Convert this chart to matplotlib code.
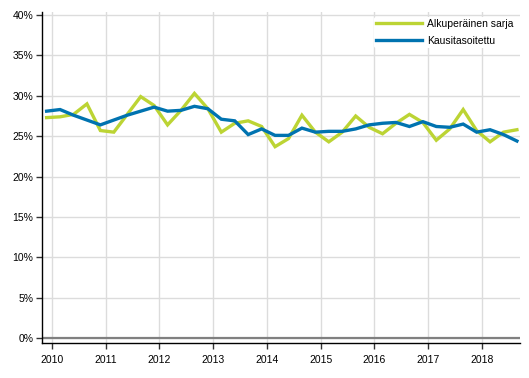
import matplotlib
matplotlib.use('Agg')
import matplotlib.pyplot as plt
import numpy as np

plt.rcParams['font.family'] = ['Liberation Sans', 'DejaVu Sans']

# quarterly values 2010Q1 - 2018Q4, percent
years = ['2010', '2011', '2012', '2013', '2014', '2015', '2016', '2017', '2018']
original = [27.3, 27.4, 27.7, 29.0, 25.7, 25.5, 27.7, 29.9,
            28.8, 26.4, 28.2, 30.3, 28.4, 25.5, 26.6, 26.9,
            26.2, 23.7, 24.7, 27.6, 25.5, 24.3, 25.5, 27.5,
            26.1, 25.3, 26.6, 27.7, 26.7, 24.5, 25.9, 28.3,
            25.7, 24.3, 25.5, 25.8]
seasonal = [28.1, 28.3, 27.6, 27.0, 26.4, 27.0, 27.6, 28.1,
            28.6, 28.1, 28.2, 28.7, 28.4, 27.1, 26.9, 25.2,
            25.9, 25.1, 25.1, 26.0, 25.5, 25.6, 25.6, 25.9,
            26.4, 26.6, 26.7, 26.2, 26.8, 26.2, 26.1, 26.5,
            25.5, 25.8, 25.2, 24.4]
labels = ['Alkuperäinen sarja', 'Kausitasoitettu']

green = '#bcd434'
blue = '#0073b0'

x = np.arange(len(original))

fig = plt.figure(figsize=(5.29, 3.78), dpi=100)
ax = fig.add_axes([0.079, 0.0926, 0.904, 0.876])

ax.plot(x, original, color=green, lw=2.4, label=labels[0], solid_joinstyle='miter')
ax.plot(x, seasonal, color=blue, lw=2.4, label=labels[1], solid_joinstyle='miter')
ax.axhline(0, color='#808080', lw=1.6, zorder=1)

ax.set_xlim(-0.36, 35.23)
ax.set_ylim(-0.62, 40.4)

yt = np.arange(0, 41, 5)
ax.set_yticks(yt)
ax.set_yticklabels([f'{v}%' for v in yt])
ax.set_xticks(np.arange(len(years)) * 4 + 0.39)
ax.set_xticklabels(years)

ax.grid(True, color='#dcdcdc', lw=1, zorder=0)
ax.set_axisbelow(True)
for s in ['top', 'right']:
    ax.spines[s].set_visible(False)
for s in ['left', 'bottom']:
    ax.spines[s].set_color('black')
    ax.spines[s].set_linewidth(1)
ax.tick_params(axis='both', labelsize=7.5, length=4, width=1, color='#333333')
ax.tick_params(axis='y', pad=2)
ax.tick_params(axis='x', pad=5)

leg = ax.legend(loc='upper left', bbox_to_anchor=(374 / 529, 1 - 17 / 378),
                bbox_transform=fig.transFigure, frameon=True, fontsize=7.5,
                handlelength=4.4, handletextpad=0.5, labelspacing=0.65,
                borderpad=0.2, borderaxespad=0)
leg.get_frame().set_facecolor('white')
leg.get_frame().set_edgecolor('none')
leg.get_frame().set_alpha(1)

fig.savefig('out.png', dpi=100)
